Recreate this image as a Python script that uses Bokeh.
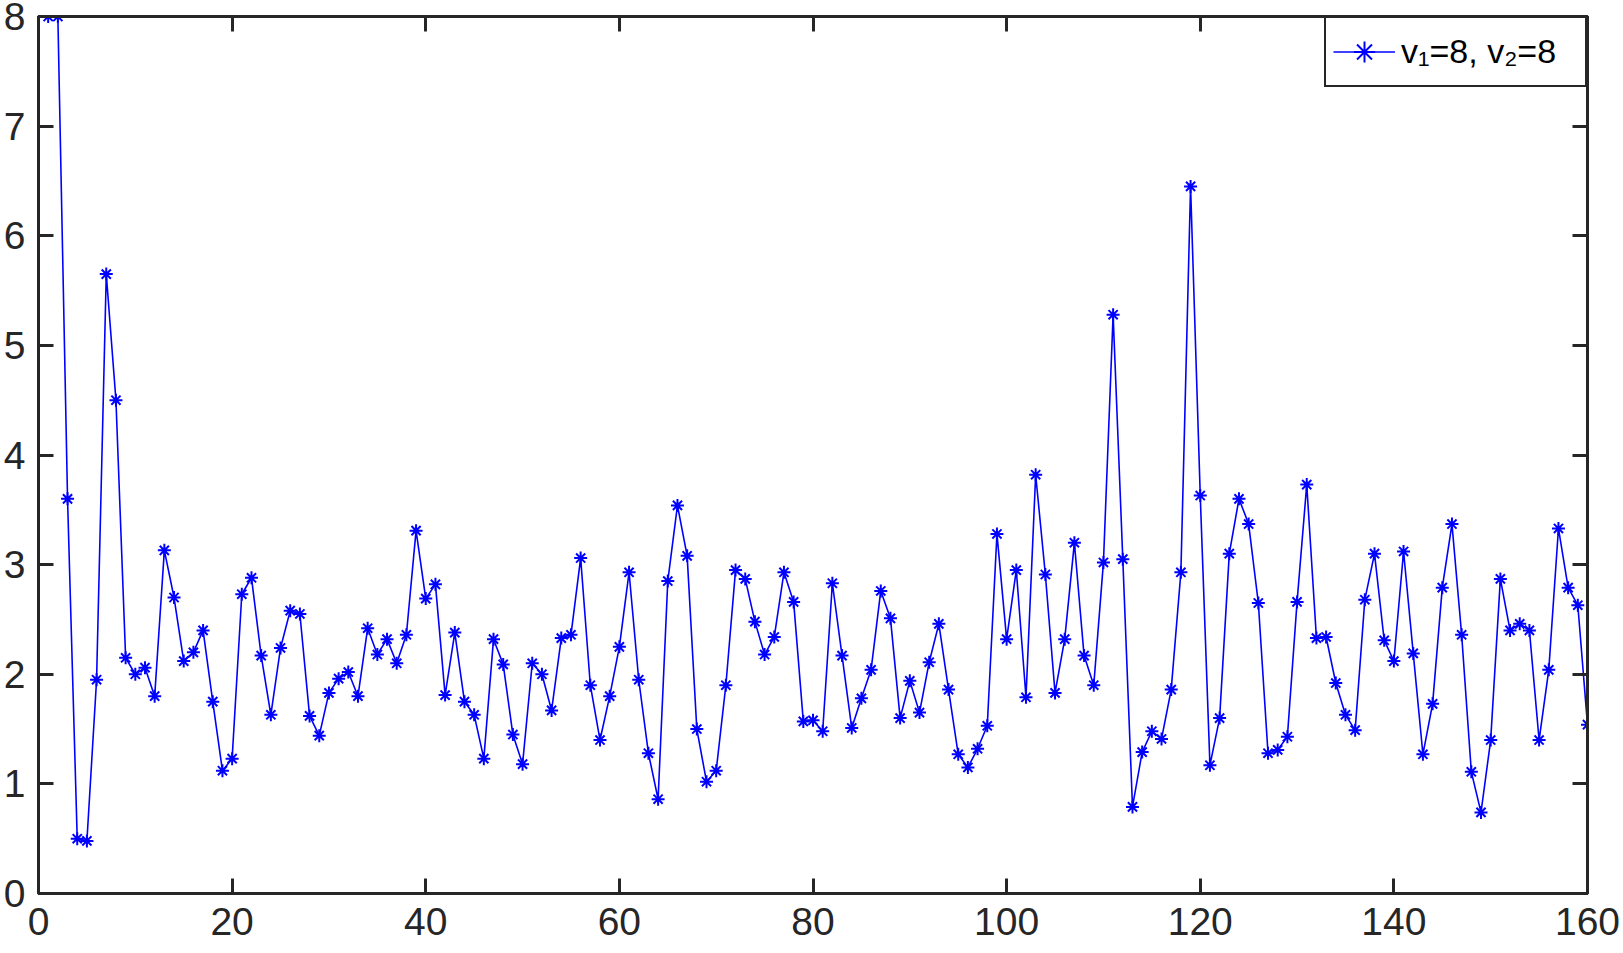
from bokeh.plotting import figure
from bokeh.models import Range1d, LinearAxis, FixedTicker, Legend, LegendItem
from bokeh.embed import file_html
from bokeh.resources import INLINE

# ---- data ----
x_values = list(range(1, 161))
y_values = [
    8.0, 8.0, 3.6, 0.5, 0.48, 1.95, 5.65, 4.5, 2.15, 2.0,
    2.06, 1.8, 3.13, 2.7, 2.12, 2.2, 2.4, 1.75, 1.12, 1.23,
    2.73, 2.88, 2.17, 1.63, 2.24, 2.58, 2.55, 1.62, 1.44, 1.83,
    1.96, 2.02, 1.8, 2.42, 2.18, 2.32, 2.1, 2.36, 3.31, 2.69,
    2.82, 1.81, 2.38, 1.75, 1.63, 1.23, 2.32, 2.09, 1.45, 1.18,
    2.1, 2.0, 1.67, 2.33, 2.36, 3.06, 1.9, 1.4, 1.8, 2.25,
    2.93, 1.95, 1.28, 0.86, 2.85, 3.54, 3.08, 1.5, 1.02, 1.12,
    1.9, 2.95, 2.87, 2.48, 2.18, 2.34, 2.93, 2.66, 1.57, 1.58,
    1.48, 2.83, 2.17, 1.51, 1.78, 2.04, 2.76, 2.51, 1.6, 1.94,
    1.65, 2.11, 2.46, 1.86, 1.27, 1.15, 1.32, 1.53, 3.28, 2.32,
    2.95, 1.79, 3.82, 2.91, 1.83, 2.32, 3.2, 2.17, 1.9, 3.02,
    5.28, 3.05, 0.79, 1.29, 1.48, 1.41, 1.86, 2.93, 6.45, 3.63,
    1.17, 1.6, 3.1, 3.6, 3.37, 2.65, 1.28, 1.31, 1.43, 2.66,
    3.73, 2.33, 2.34, 1.92, 1.63, 1.49, 2.68, 3.1, 2.31, 2.12,
    3.12, 2.19, 1.27, 1.73, 2.79, 3.37, 2.36, 1.11, 0.74, 1.4,
    2.87, 2.4, 2.46, 2.4, 1.4, 2.04, 3.33, 2.79, 2.63, 1.54,
]
x_ticks = [0, 20, 40, 60, 80, 100, 120, 140, 160]
y_ticks = [0, 1, 2, 3, 4, 5, 6, 7, 8]
series_label = "v\u2081=8, v\u2082=8"

AX = "#262626"
FONT = "Liberation Sans"
BLUE = "#0000FF"

p = figure(width=1623, height=953, output_backend="svg", toolbar_location=None,
           x_range=Range1d(0, 160), y_range=Range1d(0, 8),
           min_border_left=38, min_border_right=36, min_border_top=16,
           min_border_bottom=60, background_fill_color="white",
           border_fill_color="white")
p.grid.visible = False
p.outline_line_color = AX
p.outline_line_width = 3


def style_axis(ax, ticks, labels=True):
    ax.ticker = FixedTicker(ticks=ticks)
    ax.axis_line_color = AX
    ax.axis_line_width = 3
    ax.major_tick_line_color = AX
    ax.major_tick_line_width = 3
    ax.major_tick_in = 15
    ax.major_tick_out = 0
    ax.minor_tick_line_color = None
    if labels:
        ax.major_label_text_font = FONT
        ax.major_label_text_font_size = "39px"
        ax.major_label_text_color = AX
    else:
        ax.major_label_text_color = None
        ax.major_label_text_font_size = "1px"
        ax.major_label_standoff = 0


style_axis(p.xaxis[0], x_ticks)
style_axis(p.yaxis[0], y_ticks)
p.xaxis[0].major_label_standoff = 14
p.yaxis[0].major_label_standoff = 13

top_ax = LinearAxis()
style_axis(top_ax, x_ticks, labels=False)
p.add_layout(top_ax, "above")
right_ax = LinearAxis()
style_axis(right_ax, y_ticks, labels=False)
p.add_layout(right_ax, "right")

line_r = p.line(x_values, y_values, line_color=BLUE, line_width=1.6)
pts_r = p.scatter(x_values, y_values, marker="asterisk", size=13,
                  line_color=BLUE, line_width=2)

legend = Legend(items=[LegendItem(label=series_label, renderers=[line_r, pts_r])],
                location="top_right", margin=0, padding=7, spacing=0,
                glyph_width=62, glyph_height=53, label_height=53,
                label_width=177, label_standoff=6,
                label_text_font=FONT, label_text_font_size="34px",
                label_text_color="black",
                border_line_color=AX, border_line_width=2.5,
                border_line_alpha=1.0,
                background_fill_color="white", background_fill_alpha=1.0)
p.add_layout(legend)

open("out.html", "w").write(file_html(p, INLINE))
